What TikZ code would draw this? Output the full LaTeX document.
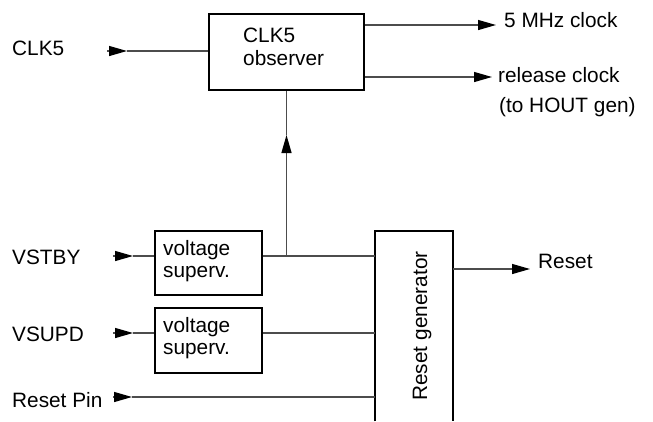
\documentclass[tikz,border=0pt]{standalone}
\usepackage{fontspec}
\setmainfont{Liberation Sans}
\usetikzlibrary{arrows.meta}
\tikzset{
  boxline/.style={draw=black, line width=2bp},
  blk/.style={boxline, anchor=north west, inner sep=0pt},
  conn/.style={draw=black!70, line width=1.3bp},
  tip/.style={-{Triangle[length=18bp,width=10bp,color=black]}},
  lbl/.style={anchor=base west, inner sep=0pt, text=black},
}
\begin{document}
\begin{tikzpicture}[x=1bp,y=-1bp,font=\fontsize{20.8bp}{24bp}\selectfont]
\useasboundingbox[fill=white] (0,0) rectangle (653,421);

% blocks
\node[blk, minimum width=155bp, minimum height=76bp] (obs) at (208,13) {};
\node[blk, minimum width=107bp, minimum height=64bp] (vs1) at (154,230) {};
\node[blk, minimum width=107bp, minimum height=65bp] (vs2) at (154,307) {};
\node[anchor=north west, inner sep=0pt, minimum width=78bp, minimum height=190bp] (rg) at (375,231) {};
\draw[boxline] (rg.south west) -- (rg.north west) -- (rg.north east) -- (rg.south east);

% block texts
\node[lbl] (obsA) at (243,42) {CLK5};
\node[lbl] (obsB) at (243,65) {observer};
\node[lbl] (vs1A) at (163,255) {voltage};
\node[lbl] (vs1B) at (163,277) {superv.};
\node[lbl] (vs2A) at (163,332) {voltage};
\node[lbl] (vs2B) at (163,354) {superv.};
\node[anchor=base, inner sep=0pt, rotate=90] (rgT) at (427,326) {Reset generator};

% signal labels
\node[lbl] (lclk) at (12,55) {CLK5};
\node[lbl] (lmhz) at (504,27) {5 MHz clock};
\node[lbl] (lrel) at (498,82) {release clock};
\node[lbl] (lhout) at (499,112) {(to HOUT gen)};
\node[lbl] (lstby) at (12,264) {VSTBY};
\node[lbl] (lsupd) at (12,341) {VSUPD};
\node[lbl] (lpin) at (12,407) {Reset Pin};
\node[lbl] (lrst) at (538,268) {Reset};

% coordinates
\coordinate (clkS) at (107,51);  \coordinate (clkT) at (127,51);
\coordinate (stbS) at (113,256); \coordinate (stbT) at (133,256);
\coordinate (supS) at (113,333); \coordinate (supT) at (133,333);
\coordinate (pinS) at (113,397); \coordinate (pinT) at (132,397);
\coordinate (o1) at (496,25);
\coordinate (o2) at (492,77);
\coordinate (o3) at (530,269);
\coordinate (jn) at (obs.south |- stbS);
\coordinate (upT) at (obs.south |- 0,135);

% inputs
\draw[conn,tip] (clkS) -- (clkT);
\draw[conn] (clkT) -- (clkT -| obs.west);
\draw[conn,tip] (stbS) -- (stbT);
\draw[conn] (stbT) -- (stbT -| vs1.west);
\draw[conn,tip] (supS) -- (supT);
\draw[conn] (supT) -- (supT -| vs2.west);
\draw[conn,tip] (pinS) -- (pinT);
\draw[conn] (pinT) -- (pinT -| rg.west);

% supervisors to reset generator
\draw[conn] (stbT -| vs1.east) -- (stbT -| rg.west);
\draw[conn] (supT -| vs2.east) -- (supT -| rg.west);

% up to observer
\draw[conn,tip] (jn) -- (upT);
\draw[conn] (upT) -- (obs.south);

% outputs
\draw[conn,tip] (o1 -| obs.east) -- (o1);
\draw[conn,tip] (o2 -| obs.east) -- (o2);
\draw[conn,tip] (o3 -| rg.east) -- (o3);
\end{tikzpicture}
\end{document}
